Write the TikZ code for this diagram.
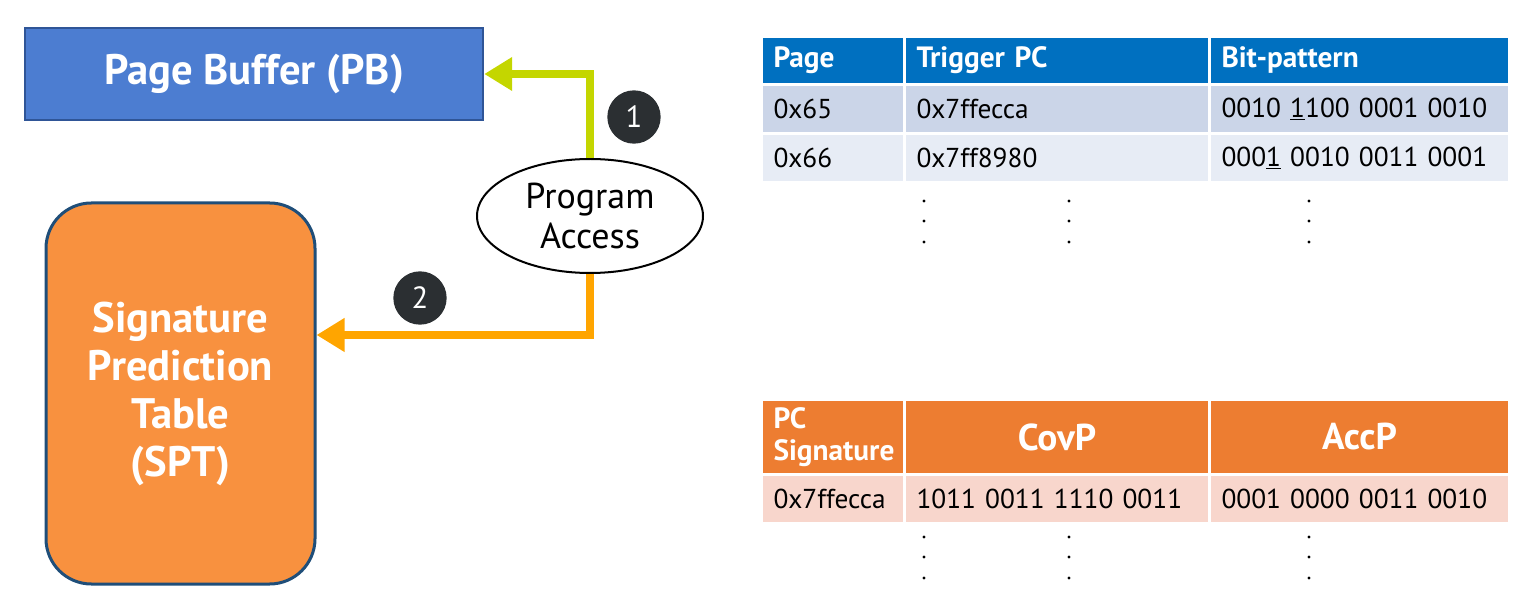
\documentclass[tikz,border=0pt]{standalone}
\usepackage{fontspec}
\setmainfont{PT Sans}
\usetikzlibrary{arrows.meta,shapes.geometric,calc}
\definecolor{pbfill}{HTML}{4C7DD1}
\definecolor{pbline}{HTML}{2F5597}
\definecolor{sptfill}{HTML}{F8913F}
\definecolor{sptline}{HTML}{1F4E79}
\definecolor{greenarr}{HTML}{C4D600}
\definecolor{orangearr}{HTML}{FFA500}
\definecolor{badgefill}{HTML}{2B2F32}
\definecolor{thblue}{HTML}{0070C0}
\definecolor{rowa}{HTML}{CBD5E8}
\definecolor{rowb}{HTML}{E7ECF5}
\definecolor{thorange}{HTML}{ED7D31}
\definecolor{rowc}{HTML}{F8D6CC}
\newcommand\fsBig{\fontsize{32}{36}\selectfont\bfseries}
\newcommand\fsEll{\fontsize{27}{30}\selectfont}
\newcommand\fsHead{\fontsize{22}{24}\selectfont\bfseries}
\newcommand\fsHeadL{\fontsize{28}{30}\selectfont\bfseries}
\newcommand\fsRow{\fontsize{20.5}{26}\selectfont}
\newcommand\fsBadge{\fontsize{23}{26}\selectfont}
\begin{document}
\begin{tikzpicture}[x=0.75pt,y=-0.75pt,
  pbbox/.style={rectangle, fill=pbfill, draw=pbline, line width=1.8pt, text=white, font=\fsBig, inner sep=0pt},
  sptbox/.style={rectangle, rounded corners=34pt, fill=sptfill, draw=sptline, line width=2.25pt, text=white, font=\fsBig, align=center, inner sep=0pt},
  access/.style={ellipse, draw=black, line width=1.5pt, fill=white, font=\fsEll, align=center, inner sep=0pt},
  flow/.style={line width=6pt, line join=miter, -{Triangle[length=21pt,width=24pt]}},
  badge/.style={circle, fill=badgefill, text=white, font=\fsBadge, minimum size=40pt, inner sep=0pt},
  cell/.style={rectangle, draw=white, line width=2.25pt, inner xsep=9pt, inner ysep=0pt, anchor=north west, align=left},
  hcell/.style={cell, text=white, font=\fsHead},
  rcell/.style={cell, text=black, font=\fsRow, minimum height=36.75pt},
  cwa/.style={text width=89.25pt},
  cwb/.style={text width=210.75pt},
  cwc/.style={text width=207pt}
]
\useasboundingbox (0,0) rectangle (1513,609);

% left diagram
\node[pbbox, minimum width=343.5pt, minimum height=69pt] (pb) at (254,74) {Page Buffer (PB)};
\node[sptbox, minimum width=201.75pt, minimum height=285.75pt] (spt) at (180.5,393.5)
  {Signature\\Prediction\\Table\\(SPT)};
\node[access, minimum width=169.5pt, minimum height=85.5pt] (pa) at (590,216) {Program\\Access};
\coordinate (lvl2) at (0,335);
\draw[flow, greenarr] (pa.north) |- (pb.east);
\draw[flow, orangearr] (pa.south) |- (spt.east |- lvl2);
\node[badge] (b1) at (634,117) {1};
\node[badge] (b2) at (420,298) {2};

% table 1
\node[hcell, fill=thblue, cwa, minimum height=36pt] (t1h1) at (760,35) {Page};
\node[hcell, fill=thblue, cwb, minimum height=36pt] (t1h2) at (903,35) {Trigger PC};
\node[hcell, fill=thblue, cwc, minimum height=36pt] (t1h3) at (1208,35) {Bit-pattern};
\node[rcell, fill=rowa, cwa] (t1a1) at (760,83) {0x65};
\node[rcell, fill=rowa, cwb] (t1a2) at (903,83) {0x7ffecca};
\node[rcell, fill=rowa, cwc] (t1a3) at (1208,83) {\mbox{0010 \underline{1}100 0001 0010}};
\node[rcell, fill=rowb, cwa] (t1b1) at (760,132) {0x66};
\node[rcell, fill=rowb, cwb] (t1b2) at (903,132) {0x7ff8980};
\node[rcell, fill=rowb, cwc] (t1b3) at (1208,132) {\mbox{000\underline{1} 0010 0011 0001}};
\foreach \x in {924,1069,1309}
  \foreach \y in {201,221,242}
    \fill (\x,\y) circle (1.6);

% table 2
\node[hcell, fill=thorange, cwa, minimum height=56.25pt] (t2h1) at (760,398) {PC\\Signature};
\node[hcell, fill=thorange, cwb, minimum height=56.25pt, align=center, font=\fsHeadL] (t2h2) at (903,398) {CovP};
\node[hcell, fill=thorange, cwc, minimum height=56.25pt, align=center, font=\fsHeadL] (t2h3) at (1208,398) {AccP};
\node[rcell, fill=rowc, cwa] (t2a1) at (760,473) {0x7ffecca};
\node[rcell, fill=rowc, cwb] (t2a2) at (903,473) {\mbox{1011 0011 1110 0011}};
\node[rcell, fill=rowc, cwc] (t2a3) at (1208,473) {\mbox{0001 0000 0011 0010}};
\foreach \x in {924,1069,1309}
  \foreach \y in {537,557,578}
    \fill (\x,\y) circle (1.6);
\end{tikzpicture}
\end{document}
